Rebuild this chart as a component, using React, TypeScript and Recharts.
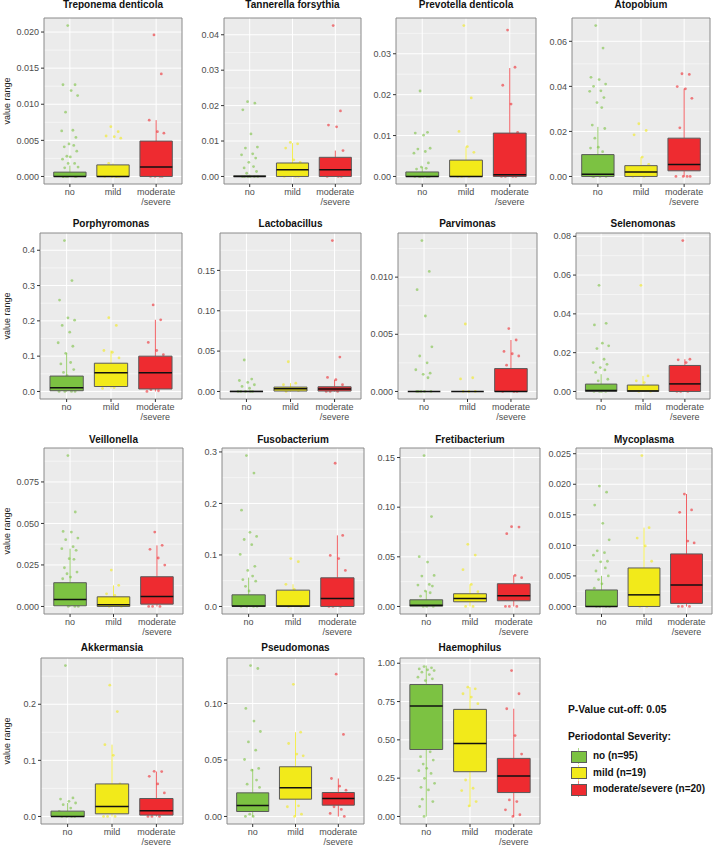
import React from "react";
import { ScatterChart, Scatter, XAxis, YAxis, CartesianGrid, ReferenceArea, ReferenceLine } from "recharts";

const GROUPS = ["no", "mild", "moderate/severe"];
const LEGEND_LABELS = ["no (n=95)", "mild (n=19)", "moderate/severe (n=20)"];
const COLORS = ["#7cc242", "#f2ea1a", "#ee2b30"];

// box stats per group: [lower whisker, q1, median, q3, upper whisker]
const treponemaTicks = [0, 0.005, 0.01, 0.015, 0.02];
const treponemaBoxes = [[0, 0, 0, 0.0006, 0.0015], [0, 0, 0, 0.0016, 0.0018], [0, 0, 0.0013, 0.0049, 0.0078]];
const treponemaNo = [0.0209, 0.0127, 0.0127, 0.0119, 0.0112, 0.0089, 0.0064, 0.0063, 0.0054, 0.0045, 0.0043, 0.0041, 0.0035, 0.0028, 0.0027, 0.0024, 0.0018, 0.0018, 0.0013, 0.0012, 0.0004, 0, 0, 0, 0, 0, 0];
const treponemaMild = [0.0069, 0.0062, 0.0056, 0.0055, 0.0053, 0.0018, 0, 0, 0, 0, 0];
const treponemaSevere = [0.0196, 0.0142, 0.0078, 0.0062, 0.006, 0.0035, 0.0026, 0.0013, 0, 0, 0, 0];

const tannerellaTicks = [0, 0.01, 0.02, 0.03, 0.04];
const tannerellaBoxes = [[0, 0, 0, 0.0002, 0.0005], [0, 0, 0.0019, 0.0038, 0.0094], [0, 0, 0.0019, 0.0054, 0.0073]];
const tannerellaNo = [0.0211, 0.0207, 0.0188, 0.012, 0.0083, 0.008, 0.0064, 0.0061, 0.0052, 0.004, 0.0028, 0.0024, 0.0014, 0.0009, 0, 0, 0, 0, 0, 0];
const tannerellaMild = [0.0096, 0.0092, 0.008, 0.0047, 0.004, 0.0019, 0, 0, 0];
const tannerellaSevere = [0.0426, 0.0185, 0.0145, 0.014, 0.0073, 0.003, 0, 0, 0];

const prevotellaTicks = [0, 0.01, 0.02, 0.03];
const prevotellaBoxes = [[0, 0, 0, 0.0011, 0.0023], [0, 0, 0, 0.004, 0.0073], [0, 0, 0.0004, 0.0106, 0.0265]];
const prevotellaNo = [0.0209, 0.0108, 0.0106, 0.0101, 0.0069, 0.0067, 0.0061, 0.0057, 0.0033, 0.0023, 0.002, 0.0018, 0, 0, 0, 0, 0, 0];
const prevotellaMild = [0.0369, 0.0192, 0.011, 0.0073, 0.0059, 0, 0, 0];
const prevotellaSevere = [0.0358, 0.0267, 0.0223, 0.0177, 0.0108, 0, 0, 0, 0];

const atopobiumTicks = [0, 0.02, 0.04, 0.06];
const atopobiumBoxes = [[0, 0, 0.001, 0.0097, 0.022], [0, 0, 0.002, 0.0048, 0.0086], [0, 0.0025, 0.0053, 0.017, 0.039]];
const atopobiumNo = [0.067, 0.057, 0.044, 0.043, 0.041, 0.04, 0.038, 0.0378, 0.035, 0.0328, 0.0306, 0.0228, 0.0213, 0.017, 0.013, 0.0126, 0.011, 0.005, 0, 0, 0, 0];
const atopobiumMild = [0.0234, 0.0204, 0.0185, 0.0086, 0.0054, 0.002, 0, 0];
const atopobiumSevere = [0.0456, 0.0453, 0.0399, 0.0389, 0.0347, 0.0216, 0, 0, 0, 0];

const porphyromonasTicks = [0, 0.1, 0.2, 0.3, 0.4];
const porphyromonasBoxes = [[0, 0.002, 0.0104, 0.0436, 0.108], [0.0085, 0.014, 0.053, 0.08, 0.116], [0, 0.007, 0.053, 0.1, 0.203]];
const porphyromonasNo = [0.4275, 0.314, 0.259, 0.2085, 0.202, 0.187, 0.168, 0.138, 0.128, 0.108, 0.082, 0.078, 0.062, 0.054, 0.045, 0, 0, 0, 0];
const porphyromonasMild = [0.209, 0.187, 0.116, 0.111, 0.095, 0.016, 0.011, 0.0085];
const porphyromonasSevere = [0.245, 0.203, 0.139, 0.116, 0.104, 0.005, 0.002, 0];

const lactobacillusTicks = [0, 0.05, 0.1, 0.15];
const lactobacillusBoxes = [[0, 0, 0, 0.0002, 0.0005], [0, 0.0005, 0.0033, 0.0054, 0.0103], [0, 0.0005, 0.003, 0.0058, 0.0145]];
const lactobacillusNo = [0.039, 0.0153, 0.0136, 0.0112, 0.0083, 0.0062, 0.004, 0, 0, 0, 0, 0];
const lactobacillusMild = [0.0368, 0.0103, 0.0083, 0.004, 0.001, 0];
const lactobacillusSevere = [0.187, 0.0426, 0.0174, 0.0145, 0.0083, 0, 0, 0];

const parvimonasTicks = [0, 0.005, 0.01];
const parvimonasBoxes = [[0, 0, 0, 0, 0], [0, 0, 0, 0, 0], [0, 0, 0, 0.002, 0.0045]];
const parvimonasNo = [0.0132, 0.0105, 0.0089, 0.0066, 0.0039, 0.0031, 0.0025, 0.0019, 0.0016, 0.0015, 0.0012, 0, 0, 0, 0, 0];
const parvimonasMild = [0.0059, 0.0012, 0.0011, 0, 0, 0];
const parvimonasSevere = [0.0055, 0.0045, 0.0035, 0.0033, 0.0031, 0.0023, 0, 0, 0];

const selenomonasTicks = [0, 0.02, 0.04, 0.06, 0.08];
const selenomonasBoxes = [[0, 0, 0.0005, 0.0038, 0.0089], [0, 0, 0.0003, 0.0033, 0.008], [0, 0, 0.0039, 0.0134, 0.0166]];
const selenomonasNo = [0.0547, 0.0351, 0.0343, 0.0249, 0.0235, 0.0221, 0.0166, 0.0149, 0.014, 0.0123, 0.0111, 0.0098, 0.0063, 0.0055, 0, 0, 0, 0];
const selenomonasMild = [0.0547, 0.008, 0.0055, 0.0046, 0, 0];
const selenomonasSevere = [0.0778, 0.0166, 0.0163, 0.0149, 0.0055, 0, 0, 0];

const veillonellaTicks = [0, 0.025, 0.05, 0.075];
const veillonellaBoxes = [[0, 0.0004, 0.0042, 0.0143, 0.0348], [0, 0, 0.001, 0.0058, 0.0127], [0, 0.0014, 0.006, 0.0179, 0.0368]];
const veillonellaNo = [0.0909, 0.0569, 0.0452, 0.0448, 0.0412, 0.0402, 0.036, 0.0348, 0.0338, 0.0288, 0.0284, 0.0233, 0.0207, 0.0197, 0.0177, 0.0167, 0, 0, 0];
const veillonellaMild = [0.0219, 0.0127, 0.0076, 0.0066, 0, 0];
const veillonellaSevere = [0.0448, 0.0368, 0.0344, 0.0292, 0.0249, 0, 0, 0];

const fusobacteriumTicks = [0, 0.1, 0.2, 0.3];
const fusobacteriumBoxes = [[0, 0, 0.001, 0.0226, 0.056], [0, 0, 0.001, 0.0317, 0.043], [0, 0, 0.0155, 0.0556, 0.138]];
const fusobacteriumNo = [0.293, 0.259, 0.187, 0.144, 0.136, 0.13, 0.12, 0.101, 0.078, 0.07, 0.059, 0.052, 0.049, 0.039, 0.03, 0, 0, 0, 0];
const fusobacteriumMild = [0.093, 0.087, 0.043, 0.033, 0, 0];
const fusobacteriumSevere = [0.278, 0.138, 0.099, 0.093, 0.07, 0, 0, 0];

const fretibacteriumTicks = [0, 0.05, 0.1, 0.15];
const fretibacteriumBoxes = [[0, 0.0003, 0.0013, 0.0067, 0.0155], [0, 0.0047, 0.008, 0.0128, 0.0222], [0, 0.0057, 0.0108, 0.0229, 0.0313]];
const fretibacteriumNo = [0.152, 0.0905, 0.0501, 0.0447, 0.0313, 0.0306, 0.0222, 0.0215, 0.0205, 0.0155, 0.0138, 0.0104, 0, 0, 0];
const fretibacteriumMild = [0.0626, 0.0518, 0.037, 0.0222, 0.0148, 0, 0];
const fretibacteriumSevere = [0.0804, 0.08, 0.0733, 0.0313, 0.029, 0, 0, 0];

const mycoplasmaTicks = [0, 0.005, 0.01, 0.015, 0.02, 0.025];
const mycoplasmaBoxes = [[0, 0, 0, 0.0027, 0.005], [0, 0, 0.0019, 0.0063, 0.0129], [0, 0.0005, 0.0035, 0.0086, 0.0184]];
const mycoplasmaNo = [0.0197, 0.0187, 0.0166, 0.0136, 0.0109, 0.0091, 0.0088, 0.0084, 0.0074, 0.0073, 0.0063, 0.0058, 0.005, 0.0044, 0.0037, 0.003, 0, 0, 0, 0];
const mycoplasmaMild = [0.0247, 0.0129, 0.0112, 0.0099, 0.0074, 0, 0];
const mycoplasmaSevere = [0.0184, 0.0158, 0.0154, 0.0107, 0.0104, 0, 0, 0];

const akkermansiaTicks = [0, 0.1, 0.2];
const akkermansiaBoxes = [[0, 0, 0, 0.0095, 0.024], [0, 0.0047, 0.0178, 0.058, 0.128], [0, 0.0024, 0.01, 0.032, 0.08]];
const akkermansiaNo = [0.269, 0.033, 0.031, 0.027, 0.024, 0.021, 0.015, 0.009, 0.005, 0, 0, 0, 0];
const akkermansiaMild = [0.234, 0.187, 0.128, 0.109, 0.058, 0, 0, 0];
const akkermansiaSevere = [0.0805, 0.08, 0.0716, 0.058, 0.042, 0, 0, 0];

const pseudomonasTicks = [0, 0.05, 0.1];
const pseudomonasBoxes = [[0, 0.0044, 0.0097, 0.0209, 0.042], [0, 0.0153, 0.0254, 0.044, 0.0746], [0, 0.01, 0.0159, 0.0212, 0.0336]];
const pseudomonasNo = [0.1336, 0.131, 0.0956, 0.0844, 0.0752, 0.066, 0.0587, 0.0504, 0.0425, 0.041, 0.0322, 0.0286, 0.0257, 0.002, 0, 0];
const pseudomonasMild = [0.117, 0.0746, 0.0646, 0.0552, 0.0537, 0.0233, 0.0094, 0.0086, 0.002, 0];
const pseudomonasSevere = [0.126, 0.0726, 0.0336, 0.0268, 0.0233, 0.0086, 0.0062, 0.0027, 0];

const haemophilusTicks = [0, 0.25, 0.5, 0.75, 1];
const haemophilusBoxes = [[0, 0.437, 0.721, 0.861, 0.985], [0.065, 0.292, 0.476, 0.699, 0.844], [0, 0.156, 0.264, 0.379, 0.703]];
const haemophilusNo = [0.978, 0.97, 0.963, 0.957, 0.952, 0.942, 0.926, 0.909, 0.898, 0.887, 0.422, 0.39, 0.368, 0.342, 0.314, 0.299, 0.281, 0.249, 0.216, 0.19, 0.173, 0.113, 0.097, 0.065, 0];
const haemophilusMild = [0.844, 0.833, 0.801, 0.779, 0.736, 0.238, 0.184, 0.169, 0.097, 0.069];
const haemophilusSevere = [0.952, 0.801, 0.703, 0.528, 0.407, 0.108, 0.097, 0.043, 0.011, 0];

interface PanelDef {
  title: string;
  ticks: number[];
  digits: number;
  boxes: number[][];
  points: number[][];
}

const PANELS: PanelDef[] = [
  { title: "Treponema denticola", ticks: treponemaTicks, digits: 3, boxes: treponemaBoxes, points: [treponemaNo, treponemaMild, treponemaSevere] },
  { title: "Tannerella forsythia", ticks: tannerellaTicks, digits: 2, boxes: tannerellaBoxes, points: [tannerellaNo, tannerellaMild, tannerellaSevere] },
  { title: "Prevotella denticola", ticks: prevotellaTicks, digits: 2, boxes: prevotellaBoxes, points: [prevotellaNo, prevotellaMild, prevotellaSevere] },
  { title: "Atopobium", ticks: atopobiumTicks, digits: 2, boxes: atopobiumBoxes, points: [atopobiumNo, atopobiumMild, atopobiumSevere] },
  { title: "Porphyromonas", ticks: porphyromonasTicks, digits: 1, boxes: porphyromonasBoxes, points: [porphyromonasNo, porphyromonasMild, porphyromonasSevere] },
  { title: "Lactobacillus", ticks: lactobacillusTicks, digits: 2, boxes: lactobacillusBoxes, points: [lactobacillusNo, lactobacillusMild, lactobacillusSevere] },
  { title: "Parvimonas", ticks: parvimonasTicks, digits: 3, boxes: parvimonasBoxes, points: [parvimonasNo, parvimonasMild, parvimonasSevere] },
  { title: "Selenomonas", ticks: selenomonasTicks, digits: 2, boxes: selenomonasBoxes, points: [selenomonasNo, selenomonasMild, selenomonasSevere] },
  { title: "Veillonella", ticks: veillonellaTicks, digits: 3, boxes: veillonellaBoxes, points: [veillonellaNo, veillonellaMild, veillonellaSevere] },
  { title: "Fusobacterium", ticks: fusobacteriumTicks, digits: 1, boxes: fusobacteriumBoxes, points: [fusobacteriumNo, fusobacteriumMild, fusobacteriumSevere] },
  { title: "Fretibacterium", ticks: fretibacteriumTicks, digits: 2, boxes: fretibacteriumBoxes, points: [fretibacteriumNo, fretibacteriumMild, fretibacteriumSevere] },
  { title: "Mycoplasma", ticks: mycoplasmaTicks, digits: 3, boxes: mycoplasmaBoxes, points: [mycoplasmaNo, mycoplasmaMild, mycoplasmaSevere] },
  { title: "Akkermansia", ticks: akkermansiaTicks, digits: 1, boxes: akkermansiaBoxes, points: [akkermansiaNo, akkermansiaMild, akkermansiaSevere] },
  { title: "Pseudomonas", ticks: pseudomonasTicks, digits: 2, boxes: pseudomonasBoxes, points: [pseudomonasNo, pseudomonasMild, pseudomonasSevere] },
  { title: "Haemophilus", ticks: haemophilusTicks, digits: 2, boxes: haemophilusBoxes, points: [haemophilusNo, haemophilusMild, haemophilusSevere] },
];

// layout (pixels)
const ROW_TOPS = [18, 233, 448, 658];
const TITLE_Y = [5, 224, 440, 648];
const COL_EDGES = [
  [[44, 182], [224, 361], [396, 536], [572, 710]],
  [[40, 182], [220, 361], [398, 537], [576, 710]],
  [[44, 183], [222, 364], [400, 540], [576, 712]],
  [[41, 183], [227, 364], [400, 540]],
];
const PLOT_H = 166;
const JITTER = [-0.05, 0.12, -0.16, 0.03, 0.18, -0.1, 0.07, -0.19, 0.14, -0.02, 0.09, -0.13, 0.16, -0.07, 0.01, -0.17, 0.11, -0.04, 0.19, -0.12, 0.05, -0.09, 0.15, -0.15];
const FONT = '"Liberation Sans", Arial, Helvetica, sans-serif';

function XTick(props: any) {
  const { x, y, payload } = props;
  const label = GROUPS[Math.round(payload.value) - 1] ?? "";
  const lines = label.includes("/") ? [label.split("/")[0], "/" + label.split("/")[1]] : [label];
  return (
    <text x={x} y={y + 6} textAnchor="middle" fontSize={9} fill="#4d4d4d">
      {lines.map((l, i) => (
        <tspan key={i} x={x} dy={i === 0 ? 0 : 10}>
          {l}
        </tspan>
      ))}
    </text>
  );
}

function Panel({ def, left, right, top, titleY, yLabel }: { def: PanelDef; left: number; right: number; top: number; titleY: number; yLabel: boolean }) {
  const YW = 40;
  const MT = 4;
  const MR = 4;
  const XH = 30;
  const values = [...def.points.flat(), ...def.boxes.flat()];
  const min = Math.min(...values);
  const max = Math.max(...values);
  const span = max - min || 1;
  const domain: [number, number] = [min - span * 0.05, max + span * 0.05];
  const step = def.ticks[1] - def.ticks[0];
  const minor = def.ticks.map((t) => t + step / 2).filter((v) => v < domain[1]);
  const plotW = right - left;

  return (
    <>
      <div style={{ position: "absolute", left, width: plotW, top: titleY - 7, textAlign: "center", fontWeight: 700, fontSize: 10, lineHeight: "14px", whiteSpace: "nowrap", color: "#111" }}>
        {def.title}
      </div>
      {yLabel && (
        <div style={{ position: "absolute", left: 7 - 40, width: 80, top: top + PLOT_H / 2 - 6, textAlign: "center", transform: "rotate(-90deg)", fontSize: 9, lineHeight: "12px", color: "#222" }}>
          value range
        </div>
      )}
      <div style={{ position: "absolute", left: left - YW, top: top - MT }}>
        <ScatterChart width={YW + plotW + MR} height={MT + PLOT_H + XH} margin={{ top: MT, right: MR, bottom: 0, left: 0 }}>
          <CartesianGrid fill="#ebebeb" stroke="#ffffff" strokeWidth={1} horizontalValues={def.ticks} verticalValues={[1, 2, 3]} />
          <CartesianGrid stroke="#ffffff" strokeWidth={0.5} horizontalValues={minor} vertical={false} />
          <XAxis type="number" dataKey="x" domain={[0.4, 3.6]} ticks={[1, 2, 3]} allowDataOverflow height={XH} axisLine={false} tickSize={3} tickLine={{ stroke: "#333" }} tick={<XTick />} interval={0} />
          <YAxis
            type="number"
            dataKey="y"
            domain={domain}
            ticks={def.ticks}
            allowDataOverflow
            width={YW}
            axisLine={false}
            tickSize={3}
            tickLine={{ stroke: "#333" }}
            tick={{ fontSize: 9, fill: "#4d4d4d" }}
            tickFormatter={(v: number) => v.toFixed(def.digits)}
            interval={0}
          />
          {def.points.map((pts, g) => (
            <Scatter
              key={"s" + g}
              data={pts.map((v, k) => ({ x: g + 1 + JITTER[k % JITTER.length], y: v }))}
              isAnimationActive={false}
              zIndex={100}
              shape={(p: any) => <circle cx={p.cx} cy={p.cy} r={1.4} fill={COLORS[g]} fillOpacity={0.6} />}
            />
          ))}
          {def.boxes.map((b, g) => (
            <ReferenceLine key={"wu" + g} segment={[{ x: g + 1, y: b[3] }, { x: g + 1, y: b[4] }]} stroke={COLORS[g]} strokeOpacity={0.75} strokeWidth={1} zIndex={150} />
          ))}
          {def.boxes.map((b, g) => (
            <ReferenceLine key={"wl" + g} segment={[{ x: g + 1, y: b[0] }, { x: g + 1, y: b[1] }]} stroke={COLORS[g]} strokeOpacity={0.75} strokeWidth={1} zIndex={150} />
          ))}
          {def.boxes.map((b, g) => (
            <ReferenceArea key={"b" + g} x1={g + 1 - 0.375} x2={g + 1 + 0.375} y1={b[1]} y2={b[3]} fill={COLORS[g]} fillOpacity={1} stroke="#5a5a5a" strokeWidth={1} ifOverflow="visible" zIndex={200} />
          ))}
          {def.boxes.map((b, g) => (
            <ReferenceLine key={"m" + g} segment={[{ x: g + 1 - 0.375, y: b[2] }, { x: g + 1 + 0.375, y: b[2] }]} stroke="#111" strokeWidth={1.5} zIndex={250} />
          ))}
          <ReferenceArea x1={0.4} x2={3.6} y1={domain[0]} y2={domain[1]} fill="none" fillOpacity={0} stroke="#8a8a8a" strokeWidth={1} ifOverflow="visible" zIndex={300} />
        </ScatterChart>
      </div>
    </>
  );
}

export default function App() {
  return (
    <div style={{ position: "absolute", left: 0, top: 0, width: 716, height: 853, background: "#fff", fontFamily: FONT, overflow: "hidden" }}>
      {PANELS.map((def, i) => {
        const r = Math.floor(i / 4);
        const c = i % 4;
        const [left, right] = COL_EDGES[r][c];
        return <Panel key={def.title} def={def} left={left} right={right} top={ROW_TOPS[r]} titleY={TITLE_Y[r]} yLabel={c === 0} />;
      })}
      <div style={{ position: "absolute", left: 568, top: 703, fontSize: 10.3, fontWeight: 700, lineHeight: "14px", color: "#111" }}>P-Value cut-off: 0.05</div>
      <div style={{ position: "absolute", left: 568, top: 730, fontSize: 10.3, fontWeight: 700, lineHeight: "14px", color: "#111" }}>Periodontal Severity:</div>
      {LEGEND_LABELS.map((label, g) => {
        const cy = 756 + g * 16.7;
        return (
          <React.Fragment key={label}>
            <div style={{ position: "absolute", left: 578, top: cy - 8, width: 1, height: 16, background: COLORS[g], opacity: 0.6 }} />
            <div style={{ position: "absolute", left: 571, top: cy - 5.5, width: 14, height: 10, background: COLORS[g], border: "1px solid #5a5a5a" }} />
            <div style={{ position: "absolute", left: 593, top: cy - 7, fontSize: 10, fontWeight: 700, lineHeight: "14px", color: "#111", whiteSpace: "nowrap" }}>{label}</div>
          </React.Fragment>
        );
      })}
    </div>
  );
}
